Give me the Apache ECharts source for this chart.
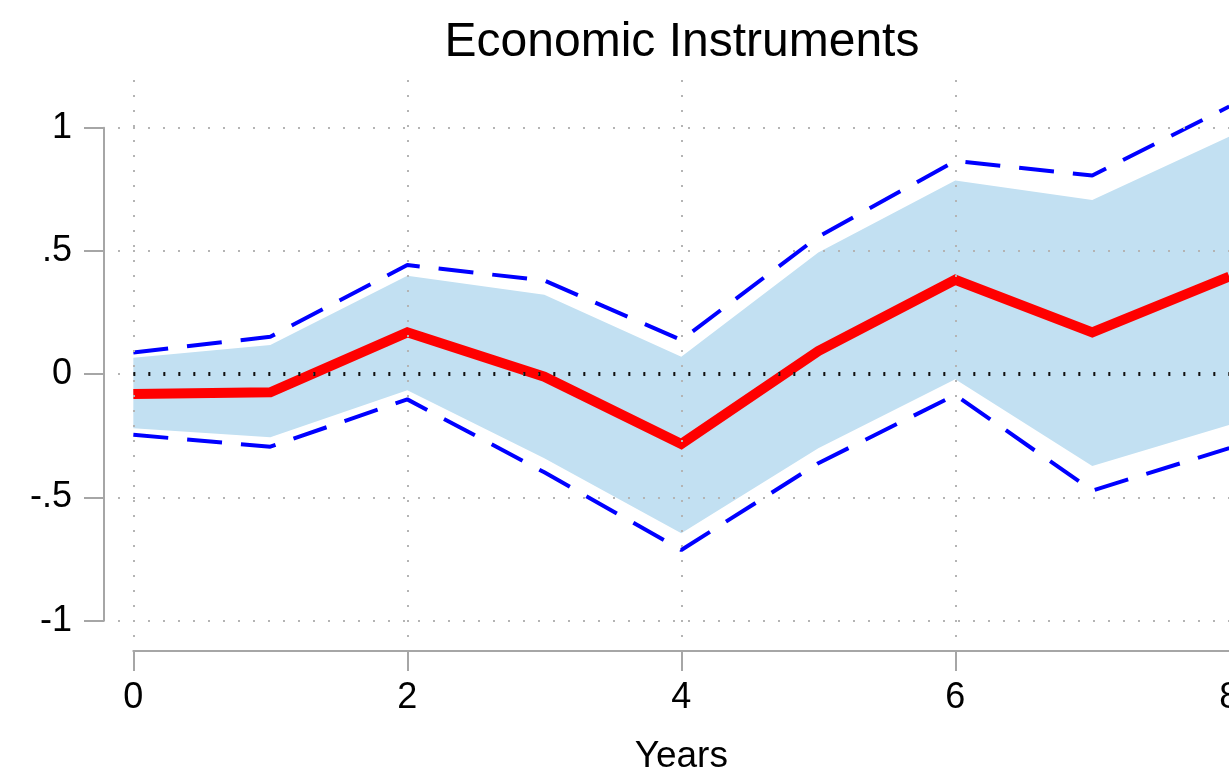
<!DOCTYPE html>
<html><head><meta charset="utf-8">
<script src="https://cdn.jsdelivr.net/npm/echarts@6/dist/echarts.min.js"></script>
<style>html,body{margin:0;padding:0;background:#fff}#c{width:1229px;height:778px}</style>
</head><body><div id="c"></div>
<script>
const years = [0, 1, 2, 3, 4, 5, 6, 7, 8];
const estimate  = [-0.080, -0.073, 0.170, -0.010, -0.283, 0.094, 0.383, 0.170, 0.396];
const bandUpper = [0.067, 0.119, 0.399, 0.322, 0.071, 0.494, 0.786, 0.707, 0.964];
const bandLower = [-0.219, -0.256, -0.065, -0.341, -0.645, -0.300, -0.020, -0.372, -0.206];
const ciUpper   = [0.088, 0.152, 0.443, 0.380, 0.139, 0.558, 0.865, 0.806, 1.086];
const ciLower   = [-0.246, -0.294, -0.102, -0.398, -0.713, -0.361, -0.084, -0.472, -0.300];
const xTicks = [0, 2, 4, 6, 8];
const yTicks = [-1, -0.5, 0, 0.5, 1];
const yTickLabels = ['-1', '-.5', '0', '.5', '1'];
const titleText = 'Economic Instruments';
const xTitle = 'Years';

const FONT = '"Liberation Sans", Arial, Helvetica, sans-serif';
const AXIS_GRAY = '#a6a6a6';
const X_MIN = -0.112, X_MAX = 8.112, Y_MIN = -1.066, Y_MAX = 1.1935;

const chart = echarts.init(document.getElementById('c'), null, {renderer: 'canvas'});
const pairs = arr => years.map((x, i) => [x, arr[i]]);

const option = {
  animation: false,
  backgroundColor: '#ffffff',
  title: {
    text: titleText, left: 682, top: 19, textAlign: 'center', padding: 0,
    textStyle: {fontFamily: FONT, fontSize: 48, fontWeight: 'normal', color: '#000'}
  },
  grid: [
    {left: 118, top: 80, width: 1126.6, height: 557, outerBoundsMode: 'none', containLabel: false},
    {left: 133.3, top: 127.7, width: 1096, height: 493, outerBoundsMode: 'none', containLabel: false}
  ],
  xAxis: [
    {gridIndex: 0, type: 'value', min: X_MIN, max: X_MAX, show: false},
    {gridIndex: 1, type: 'value', min: 0, max: 8, interval: 2, offset: 30.3,
     name: xTitle, nameLocation: 'middle', nameGap: 87,
     nameTextStyle: {fontFamily: FONT, fontSize: 37, color: '#000'},
     axisLine: {show: true, onZero: false, lineStyle: {color: AXIS_GRAY, width: 2}},
     axisTick: {show: true, inside: false, length: 20, lineStyle: {color: AXIS_GRAY, width: 2}},
     axisLabel: {show: true, margin: 29, fontFamily: FONT, fontSize: 36, color: '#000',
       hideOverlap: false, showMaxLabel: true, showMinLabel: true},
     splitLine: {show: false}}
  ],
  yAxis: [
    {gridIndex: 0, type: 'value', min: Y_MIN, max: Y_MAX, show: false},
    {gridIndex: 1, type: 'value', min: -1, max: 1, interval: 0.5, offset: 29.3,
     axisLine: {show: true, onZero: false, lineStyle: {color: AXIS_GRAY, width: 2}},
     axisTick: {show: true, inside: false, length: 20, lineStyle: {color: AXIS_GRAY, width: 2}},
     axisLabel: {show: true, margin: 32, fontFamily: FONT, fontSize: 36, color: '#000',
       padding: [5, 0, 0, 0], showMaxLabel: true, showMinLabel: true,
       formatter: v => { const i = yTicks.findIndex(t => Math.abs(t - v) < 1e-9); return i >= 0 ? yTickLabels[i] : ''; }},
     splitLine: {show: false}}
  ],
  series: [
    {
      name: 'gridlines', type: 'line', xAxisIndex: 0, yAxisIndex: 0, data: [],
      silent: true, z: 0,
      markLine: {
        silent: true, symbol: 'none', animation: false, label: {show: false},
        lineStyle: {color: '#b4b4b4', width: 2, type: [2, 13]},
        emphasis: {disabled: true},
        data: yTicks.map(v => ({yAxis: v})).concat(xTicks.map(v => ({xAxis: v})))
      }
    },
    {
      name: 'band', type: 'custom', xAxisIndex: 0, yAxisIndex: 0, data: [[0, 0]],
      silent: true, z: 1, clip: false,
      renderItem: (params, api) => {
        const top = years.map((x, i) => api.coord([x, bandUpper[i]]));
        const bot = years.map((x, i) => api.coord([x, bandLower[i]])).reverse();
        return {type: 'polygon', shape: {points: top.concat(bot)}, style: {fill: '#c2e0f2'}};
      }
    },
    {
      name: 'upper', type: 'line', xAxisIndex: 0, yAxisIndex: 0, data: pairs(ciUpper),
      symbol: 'none', silent: true, z: 3,
      lineStyle: {color: '#0000ff', width: 4, type: [35, 19], cap: 'butt'}
    },
    {
      name: 'lower', type: 'line', xAxisIndex: 0, yAxisIndex: 0, data: pairs(ciLower),
      symbol: 'none', silent: true, z: 3,
      lineStyle: {color: '#0000ff', width: 4, type: [35, 19], cap: 'butt'}
    },
    {
      name: 'estimate', type: 'line', xAxisIndex: 0, yAxisIndex: 0, data: pairs(estimate),
      symbol: 'none', silent: true, z: 4,
      lineStyle: {color: '#ff0000', width: 10, join: 'miter'}
    },
    {
      name: 'zero', type: 'line', xAxisIndex: 0, yAxisIndex: 0, data: [],
      silent: true, z: 6,
      markLine: {
        silent: true, symbol: 'none', animation: false, label: {show: false},
        lineStyle: {color: '#111111', width: 4, type: [2, 13]},
        emphasis: {disabled: true},
        data: [[{coord: [0, 0]}, {coord: [X_MAX, 0]}]]
      }
    }
  ]
};
chart.setOption(option);
</script>
</body></html>
